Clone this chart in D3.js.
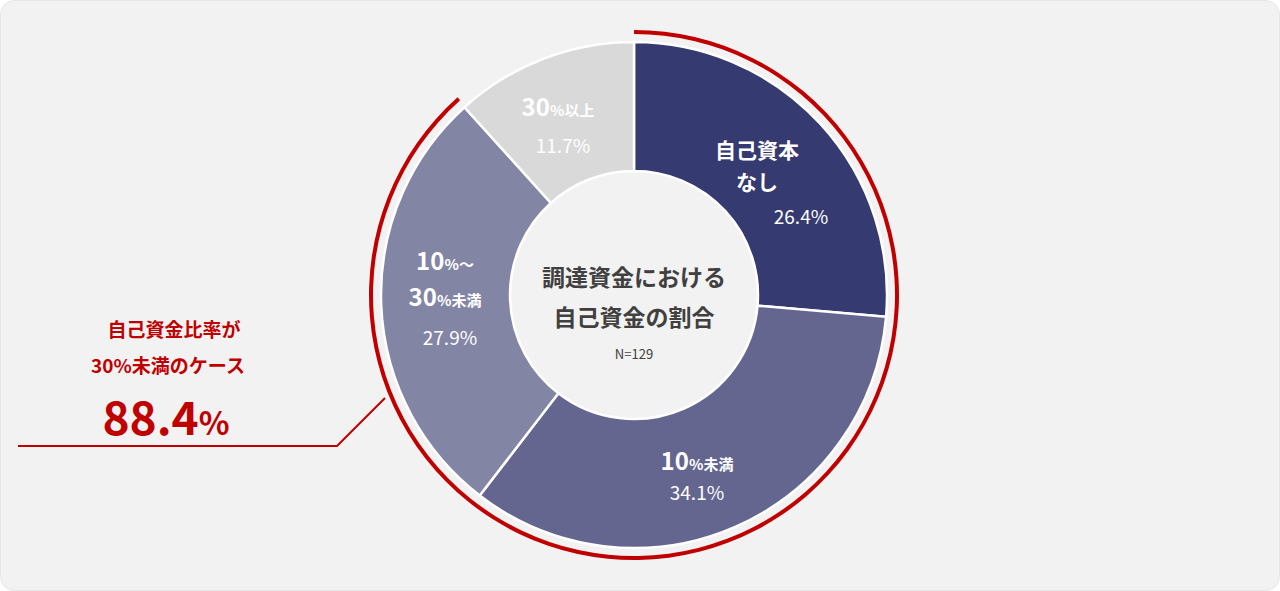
<!DOCTYPE html><html><head><meta charset="utf-8">
<script src="https://cdn.jsdelivr.net/npm/d3@7"></script>
<style>body{margin:0;background:#fff}svg{display:block}text{font-family:"Noto Sans CJK JP","Noto Sans",sans-serif}</style>
</head><body><svg id="c" width="1280" height="591"></svg>
<script>
const categories=["自己資本なし","10%未満","10%～30%未満","30%以上"];
const values=[26.4,34.1,27.9,11.7];
const colors=["#353a70","#646690","#8385a5","#d9d9d9"];
const redShare=88.4;
const svg=d3.select("#c");
svg.append("rect").attr("x",0.5).attr("y",0.5).attr("width",1279).attr("height",590).attr("rx",14).attr("fill","#f2f2f2").attr("stroke","#e6e6e6");
const cx=634,cy=295;
const g=svg.append("g").attr("transform",`translate(${cx},${cy})`);
const pie=d3.pie().sort(null).value(d=>d);
const arcs=pie(values);
const arc=d3.arc().innerRadius(124).outerRadius(253);
g.selectAll("path.s").data(arcs).join("path").attr("d",arc).attr("fill",(d,i)=>colors[i]).attr("stroke","#fff").attr("stroke-width",2.5);
const ang=redShare/100*2*Math.PI;
g.append("path").attr("d",d3.arc().innerRadius(261).outerRadius(265).startAngle(0).endAngle(ang)()).attr("fill","#c00000");
// leader line
svg.append("polyline").attr("points","385,398 337,446 18,446").attr("fill","none").attr("stroke","#c00000").attr("stroke-width",2);
function lbl(x,y,parts,fill,anchor="middle"){
  const t=svg.append("text").attr("x",x).attr("y",y).attr("text-anchor",anchor).attr("fill",fill);
  parts.forEach(p=>t.append("tspan").text(p[0]).attr("font-size",p[1]).attr("font-weight",p[2]||"normal"));
}
const W="#fff";
lbl(757,158,[["自己資本",21,"bold"]],W);
lbl(757,190,[["なし",21,"bold"]],W);
lbl(801,224,[[values[0].toFixed(1)+"%",19]],W);
lbl(697,470,[["10",24,"bold"],["%未満",15,"bold"]],W);
lbl(697,500,[[values[1].toFixed(1)+"%",19]],W);
lbl(445,270,[["10",24,"bold"],["%～",15,"bold"]],W);
lbl(445,306,[["30",24,"bold"],["%未満",15,"bold"]],W);
lbl(450,345,[[values[2].toFixed(1)+"%",19]],W);
lbl(558,116,[["30",24,"bold"],["%以上",15,"bold"]],W);
lbl(563,153,[[values[3].toFixed(1)+"%",19]],W);
lbl(634,286,[["調達資金における",23,"bold"]],"#404040");
lbl(634,326,[["自己資金の割合",23,"bold"]],"#404040");
lbl(634,359,[["N=129",13]],"#404040");
lbl(174,337,[["自己資金比率が",19,"bold"]],"#c00000");
lbl(168,373,[["30%未満のケース",19,"bold"]],"#c00000");
lbl(166,435,[[redShare.toFixed(1),46,"bold"],["%",32,"bold"]],"#c00000");
</script></body></html>
